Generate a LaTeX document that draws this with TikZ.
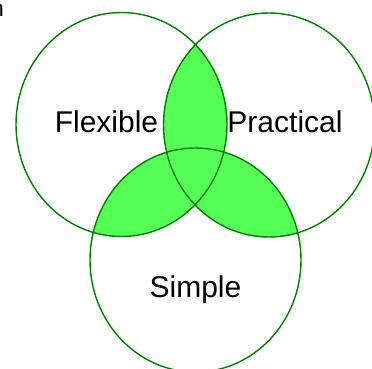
\documentclass[tikz,border=0pt]{standalone}
\usepackage{fontspec}
\setmainfont{Liberation Sans}
\definecolor{setgreen}{RGB}{0,128,0}
\definecolor{lensgreen}{RGB}{85,255,85}
\tikzset{
  setedge/.style={draw=setgreen,line width=1.4pt},
  setshape/.style={x radius=105.5pt,y radius=112pt},
  setlabel/.style={font=\fontsize{30}{36}\selectfont,inner sep=0pt,anchor=base}
}

\begin{document}
\begin{tikzpicture}[x=1pt,y=-1pt]
  \useasboundingbox (0,0) rectangle (372,369);

  \coordinate (cflex) at (121.5,124.5);
  \coordinate (cprac) at (269,125);
  \coordinate (csimp) at (195.5,260);

  % pairwise overlaps
  \begin{scope}
    \clip (cflex) ellipse [setshape];
    \fill[lensgreen] (cprac) ellipse [setshape];
    \fill[lensgreen] (csimp) ellipse [setshape];
  \end{scope}
  \begin{scope}
    \clip (cprac) ellipse [setshape];
    \fill[lensgreen] (csimp) ellipse [setshape];
  \end{scope}

  % outlines
  \draw[setedge] (cflex) ellipse [setshape];
  \draw[setedge] (cprac) ellipse [setshape];
  \draw[setedge] (csimp) ellipse [setshape];

  \node[setlabel] (flex) at (106.5,132) {Flexible};
  \node[setlabel] (prac) at (285,132) {Practical};
  \node[setlabel] (simp) at (195.5,297) {Simple};

  \node[font=\fontsize{23}{28}\selectfont,inner sep=0pt,anchor=base east] (cut) at (4,17) {n};
\end{tikzpicture}
\end{document}
